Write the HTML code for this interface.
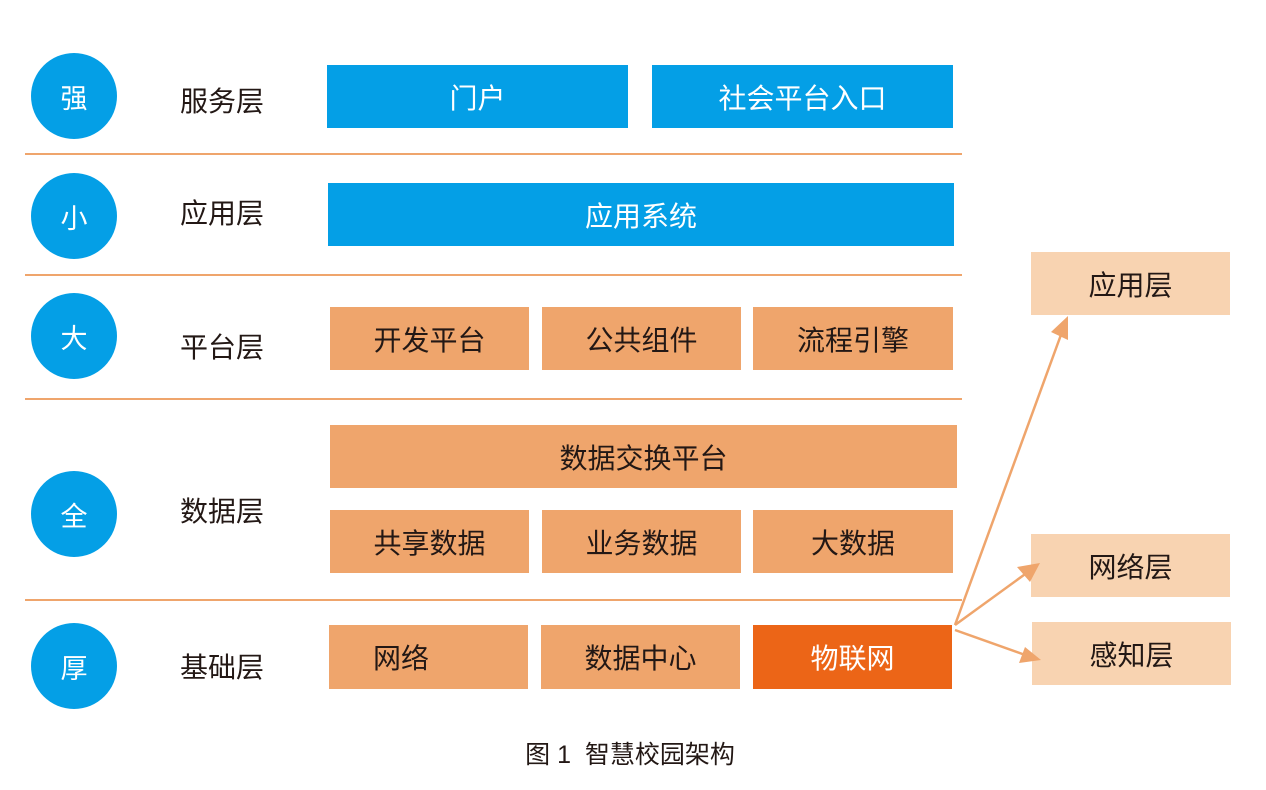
<!DOCTYPE html>
<html><head><meta charset="utf-8"><style>
body{margin:0;width:1266px;height:790px;background:#fff;position:relative;overflow:hidden;font-family:"Liberation Sans","Noto Sans CJK SC",sans-serif;}
.a{position:absolute;display:flex;align-items:center;justify-content:center;font-size:28px;color:#231815;}
.b{background:#049fe6;color:#fff;}
.o{background:#efa56c;}
.d{background:#ec6517;color:#fff;}
.l{background:#f8d3b1;}
.c{border-radius:50%;width:86px;height:86px;background:#049fe6;color:#fff;font-size:27px;}
.ln{position:absolute;left:25px;width:937px;height:2px;background:#efa56c;}
.t{width:120px;justify-content:center;}
</style></head><body>
<div class="a c" style="left:31px;top:53px">强</div>
<div class="a c" style="left:31px;top:173px">小</div>
<div class="a c" style="left:31px;top:293px">大</div>
<div class="a c" style="left:31px;top:471px">全</div>
<div class="a c" style="left:31px;top:623px">厚</div>
<div class="a t" style="left:162px;top:80px;height:40px">服务层</div>
<div class="a t" style="left:162px;top:192px;height:40px">应用层</div>
<div class="a t" style="left:162px;top:326px;height:40px">平台层</div>
<div class="a t" style="left:162px;top:490px;height:40px">数据层</div>
<div class="a t" style="left:162px;top:646px;height:40px">基础层</div>
<div class="ln" style="top:153px"></div>
<div class="ln" style="top:274px"></div>
<div class="ln" style="top:398px"></div>
<div class="ln" style="top:599px"></div>
<div class="a b" style="left:327px;top:65px;width:301px;height:63px">门户</div>
<div class="a b" style="left:652px;top:65px;width:301px;height:63px">社会平台入口</div>
<div class="a b" style="left:328px;top:183px;width:626px;height:63px">应用系统</div>
<div class="a o" style="left:330px;top:307px;width:199px;height:63px">开发平台</div>
<div class="a o" style="left:542px;top:307px;width:199px;height:63px">公共组件</div>
<div class="a o" style="left:753px;top:307px;width:200px;height:63px">流程引擎</div>
<div class="a o" style="left:330px;top:425px;width:627px;height:63px">数据交换平台</div>
<div class="a o" style="left:330px;top:510px;width:199px;height:63px">共享数据</div>
<div class="a o" style="left:542px;top:510px;width:199px;height:63px">业务数据</div>
<div class="a o" style="left:753px;top:510px;width:200px;height:63px">大数据</div>
<div class="a o" style="left:329px;top:625px;width:199px;height:64px;justify-content:flex-start;padding-left:44px;box-sizing:border-box">网络</div>
<div class="a o" style="left:541px;top:625px;width:199px;height:64px">数据中心</div>
<div class="a d" style="left:753px;top:625px;width:199px;height:64px">物联网</div>
<div class="a l" style="left:1031px;top:252px;width:199px;height:63px">应用层</div>
<div class="a l" style="left:1031px;top:534px;width:199px;height:63px">网络层</div>
<div class="a l" style="left:1032px;top:622px;width:199px;height:63px">感知层</div>
<svg style="position:absolute;left:0;top:0" width="1266" height="790">
<g stroke="#efa56c" stroke-width="2.5" fill="none">
<line x1="955" y1="625" x2="1062" y2="332"/>
<line x1="955" y1="625" x2="1028" y2="572"/>
<line x1="955" y1="630" x2="1028" y2="656"/>
</g>
<g fill="#efa56c">
<polygon points="1068,316 1068,340 1051,332"/>
<polygon points="1040,563 1030,582 1017,567"/>
<polygon points="1041,660 1019,663 1025,647"/>
</g>
</svg>
<div class="a" style="left:480px;top:735px;width:300px;height:36px;font-size:25px">图 1&nbsp;&nbsp;智慧校园架构</div>
</body></html>
